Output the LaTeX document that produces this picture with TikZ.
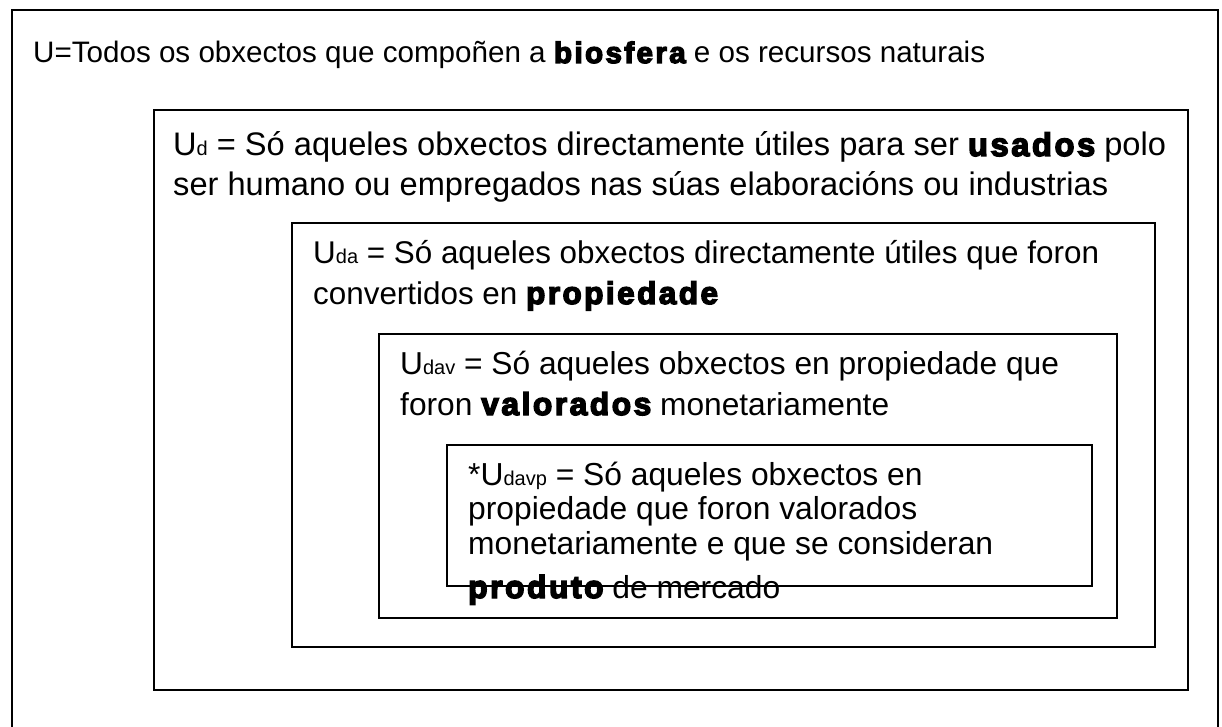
\documentclass[tikz,border=0pt]{standalone}
\usepackage{fontspec}
\setmainfont{Liberation Sans}
\newfontfamily\heavyfam{Liberation Sans Bold}[FakeBold=4.5,LetterSpace=8]
\newcommand\hv[1]{{\heavyfam #1}}
\newcommand\sbs[1]{{\fontsize{20}{20}\selectfont #1}}
\tikzset{
  frame/.style={draw, line width=1.8pt, inner sep=0pt, outer sep=0pt, anchor=north west},
  txt/.style={anchor=base west, inner sep=0pt},
  fa/.style={font=\fontsize{29.6}{36}\selectfont},
  fb/.style={font=\fontsize{32.6}{36}\selectfont},
  fc/.style={font=\fontsize{31.4}{36}\selectfont},
  fd/.style={font=\fontsize{31.7}{36}\selectfont},
  fe/.style={font=\fontsize{31.8}{36}\selectfont}
}
\begin{document}
\begin{tikzpicture}[x=1pt,y=-1pt]
\useasboundingbox (0,0) rectangle (1222,727);
\node[frame, minimum width=1206pt, minimum height=760pt] (outer) at (12,10) {};
\node[frame, minimum width=1034pt, minimum height=580pt] (bd) at (154,110) {};
\node[frame, minimum width=863pt, minimum height=424pt] (bda) at (292,223) {};
\node[frame, minimum width=738pt, minimum height=284pt] (bdav) at (379,334) {};
\node[frame, minimum width=645pt, minimum height=141pt] (bdavp) at (447,445) {};

\node[txt,fa] (t0) at (33,63) {U=Todos os obxectos que compoñen a \hv{biosfera} e os recursos naturais};
\node[txt,fb] (t1a) at (173,156) {U\sbs{d} = Só aqueles obxectos directamente útiles para ser \hv{usados} polo};
\node[txt,fb] (t1b) at (173,196) {ser humano ou empregados nas súas elaboracións ou industrias};
\node[txt,fc] (t2a) at (313,263) {U\sbs{da} = Só aqueles obxectos directamente útiles que foron};
\node[txt,fc] (t2b) at (313,304) {convertidos en \hv{propiedade}};
\node[txt,fd] (t3a) at (400,374) {U\sbs{dav} = Só aqueles obxectos en propiedade que};
\node[txt,fd] (t3b) at (400,415) {foron \hv{valorados} monetariamente};
\node[txt,fe] (t4a) at (468,485) {*U\sbs{davp} = Só aqueles obxectos en};
\node[txt,fe] (t4b) at (468,519) {propiedade que foron valorados};
\node[txt,fe] (t4c) at (468,554) {monetariamente e que se consideran};
\node[txt,fe] (t4d) at (468,598) {\hv{produto} de mercado};
\end{tikzpicture}
\end{document}
